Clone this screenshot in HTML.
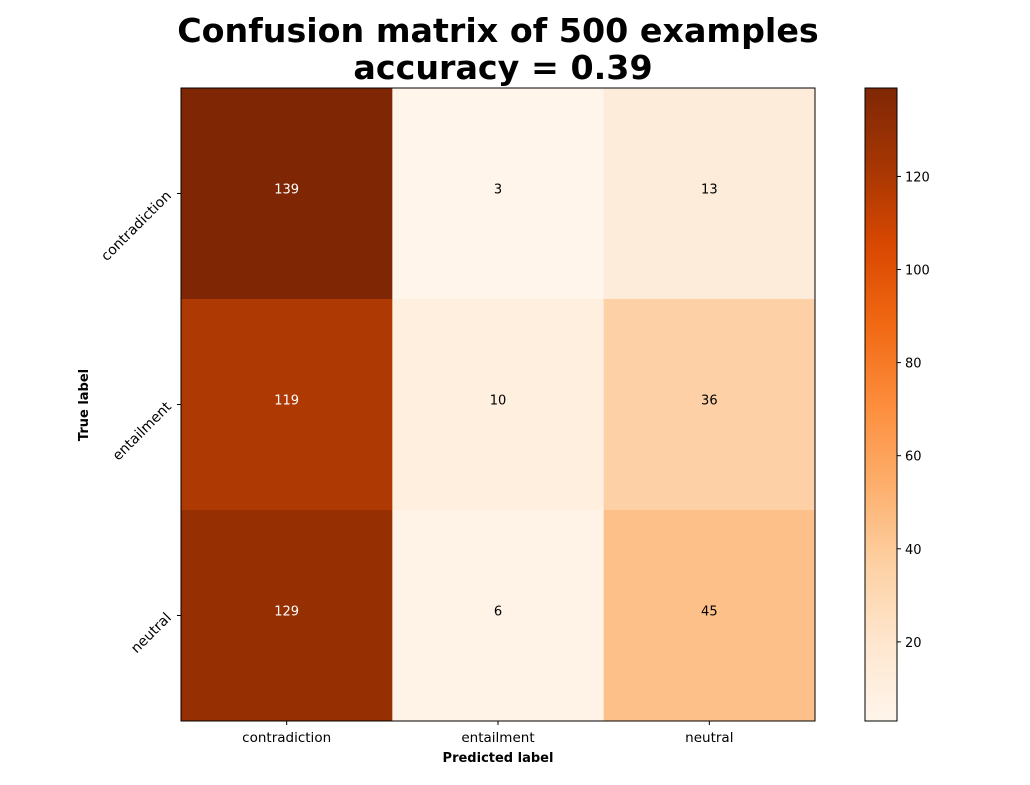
<!DOCTYPE html>
<html><head><meta charset="utf-8"><style>
body{margin:0;background:#fff;}
svg{font-family:"DejaVu Sans","Liberation Sans",sans-serif;}
</style></head><body>
<svg id="chart" width="1030" height="780" xmlns="http://www.w3.org/2000/svg">
<defs><linearGradient id="oranges" x1="0" y1="1" x2="0" y2="0">
<stop offset="0" stop-color="#fff5eb"/><stop offset="0.125" stop-color="#fee6ce"/><stop offset="0.25" stop-color="#fdd0a2"/><stop offset="0.375" stop-color="#fdae6b"/><stop offset="0.5" stop-color="#fd8d3c"/><stop offset="0.625" stop-color="#f16913"/><stop offset="0.75" stop-color="#d94801"/><stop offset="0.875" stop-color="#a63603"/><stop offset="1" stop-color="#7f2704"/>
</linearGradient></defs>
<text x="498" y="42" text-anchor="middle" font-size="33.3" font-weight="bold">Confusion matrix of 500 examples</text>
<text x="503" y="79" text-anchor="middle" font-size="33.3" font-weight="bold">accuracy = 0.39</text>
<g id="cells"></g>
<rect x="181" y="88" width="634" height="633" fill="none" stroke="#000" stroke-width="1"/>
<g id="ticks"></g>
<text x="498" y="762" text-anchor="middle" font-size="13" font-weight="bold">Predicted label</text>
<text transform="translate(88,405) rotate(-90)" text-anchor="middle" font-size="13" font-weight="bold">True label</text>
<rect x="865" y="88" width="32" height="633" fill="url(#oranges)" stroke="#000" stroke-width="1"/>
<g id="cbticks"></g>
</svg>
<script>
const categories=["contradiction","entailment","neutral"];
const matrix=[[139,3,13],[119,10,36],[129,6,45]];
const cbTicks=[20,40,60,80,100,120];
const stops=["#fff5eb","#fee6ce","#fdd0a2","#fdae6b","#fd8d3c","#f16913","#d94801","#a63603","#7f2704"];
const NS="http://www.w3.org/2000/svg";
const flat=matrix.flat();const vmin=Math.min(...flat),vmax=Math.max(...flat);
const X0=181,Y0=88,W=634,H=633,n=categories.length,cw=W/n,ch=H/n;
function hex(h){return [1,3,5].map(i=>parseInt(h.substr(i,2),16));}
function cmap(v){let t=(v-vmin)/(vmax-vmin)*(stops.length-1);let i=Math.min(Math.floor(t),stops.length-2);let f=t-i;
let a=hex(stops[i]),b=hex(stops[i+1]);return "rgb("+a.map((c,k)=>Math.round(c+(b[k]-c)*f)).join(",")+")";}
function mk(tag,attrs,parent){const e=document.createElementNS(NS,tag);for(const k in attrs)e.setAttribute(k,attrs[k]);parent.appendChild(e);return e;}
const cells=document.getElementById("cells"),ticks=document.getElementById("ticks"),cb=document.getElementById("cbticks");
matrix.forEach((row,r)=>row.forEach((v,c)=>{
 const rc=mk("rect",{x:X0+c*cw,y:Y0+r*ch,width:cw+0.5,height:ch+0.5,fill:cmap(v)},cells);
 
 
 const t=mk("text",{x:X0+(c+0.5)*cw,y:Y0+(r+0.5)*ch,"text-anchor":"middle","font-size":13,fill:v>(vmax+vmin)/2?"#fff":"#000"},cells);
 t.textContent=v;
 
 
}));
categories.forEach((cat,i)=>{
 const x=X0+(i+0.5)*cw;
 mk("line",{x1:x,y1:Y0+H,x2:x,y2:Y0+H+4,stroke:"#000"},ticks);
 const t=mk("text",{x:x,y:Y0+H+21,"text-anchor":"middle","font-size":13.5},ticks);t.textContent=cat;
 
 
 const y=Y0+(i+0.5)*ch;
 mk("line",{x1:X0-4,y1:y,x2:X0,y2:y,stroke:"#000"},ticks);
 const u=mk("text",{transform:"translate("+(X0-9)+","+(y+3)+") rotate(-45)","text-anchor":"end","font-size":14},ticks);u.textContent=cat;
 
 
});
cbTicks.forEach(v=>{
 const y=Y0+H-(v-vmin)/(vmax-vmin)*H;
 mk("line",{x1:897,y1:y,x2:901,y2:y,stroke:"#000"},cb);
 const t=mk("text",{x:905,y:y+5,"font-size":13},cb);t.textContent=v;
 
 
});
</script>
</body></html>
